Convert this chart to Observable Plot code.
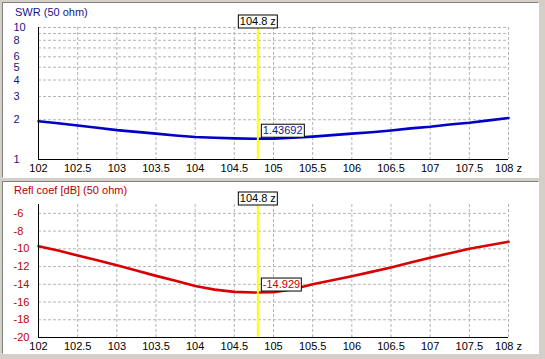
<!DOCTYPE html>
<html>
<head>
<meta charset="utf-8">
<script src="https://cdn.jsdelivr.net/npm/d3@7"></script>
<script src="https://cdn.jsdelivr.net/npm/@observablehq/plot@0.6"></script>
<style>
  html, body { margin: 0; padding: 0; background: #d4d0c8; width: 545px; height: 359px; overflow: hidden; }
  .panel { position: absolute; background: #fff; border-style: solid; border-width: 1px;
           border-color: #808080 #ffffff #ffffff #808080; overflow: hidden; }
  .title { position: absolute; font: 11px "Liberation Sans", Arial, sans-serif; white-space: nowrap; }
</style>
</head>
<body>
<div id="top" class="panel" style="left:2px; top:2px; width:535px; height:174px;">
  <div class="title" style="left:12px; top:3px; color:#14148c;">SWR (50 ohm)</div>
</div>
<div id="bottom" class="panel" style="left:2px; top:181px; width:535px; height:171px;">
  <div class="title" style="left:11px; top:2px; color:#b40000;">Refl coef [dB] (50 ohm)</div>
</div>
<script>
// ---- data ----
const freq   = [102, 102.25, 102.5, 102.75, 103, 103.25, 103.5, 103.75, 104, 104.25, 104.5, 104.75, 105,
                105.25, 105.5, 105.75, 106, 106.25, 106.5, 106.75, 107, 107.25, 107.5, 107.75, 108];
const swr    = [1.95, 1.88, 1.81, 1.74, 1.67, 1.62, 1.57, 1.52, 1.48, 1.46, 1.445, 1.437, 1.44,
                1.46, 1.49, 1.53, 1.57, 1.61, 1.66, 1.72, 1.77, 1.84, 1.90, 1.98, 2.06];
const reflDb = [-9.7, -10.2, -10.75, -11.3, -11.85, -12.45, -13.05, -13.6, -14.2, -14.6, -14.85, -14.93, -14.9,
                -14.55, -14.0, -13.55, -13.1, -12.6, -12.1, -11.55, -11.0, -10.5, -10.0, -9.6, -9.2];
const xTicks   = [102, 102.5, 103, 103.5, 104, 104.5, 105, 105.5, 106, 106.5, 107, 107.5, 108];
const xGrid    = [102.5, 103, 103.5, 104, 104.5, 105, 105.5, 106, 106.5, 107, 107.5, 108];
const swrTicks = [1, 2, 3, 4, 5, 6, 8, 10];
const swrGrid  = [2, 3, 4, 5, 6, 7, 8, 9, 10];
const dbTicks  = [-20, -18, -16, -14, -12, -10, -8, -6];
const dbGrid   = [-18, -16, -14, -12, -10, -8, -6];
const cursorFreq = 104.8;
const cursorLabel = "104.8 z";
const cursorSwr  = 1.43692;
const cursorSwrLabel = "1.43692";
const cursorDb   = -14.929;
const cursorDbLabel = "-14.929";

const swrData  = freq.map((f, i) => ({f, v: swr[i]}));
const reflData = freq.map((f, i) => ({f, v: reflDb[i]}));

const gridColor = "#b4b4b4";
const fontStyle = {fontSize: "11px", fontFamily: "'Liberation Sans', Arial, sans-serif", background: "transparent", overflow: "visible"};

function panelPlot({h, mt, mb, y, data, yTicks, yGrid, yMin, lineColor, textColor, cursorVal, cursorText}) {
  return Plot.plot({
    width: 535, height: h,
    marginLeft: 35, marginRight: 30, marginTop: mt, marginBottom: mb,
    style: fontStyle,
    x: {domain: [102, 108], axis: null, label: null},
    y: {...y, axis: null, label: null},
    marks: [
      Plot.ruleX(xGrid, {stroke: gridColor, strokeDasharray: "3,2"}),
      Plot.ruleY(yGrid, {stroke: gridColor, strokeDasharray: "3,2"}),
      Plot.line(data, {x: "f", y: "v", stroke: lineColor, strokeWidth: 2.6}),
      Plot.ruleX([cursorFreq], {stroke: "#ffff00", strokeWidth: 2, insetTop: -2}),
      Plot.ruleX([102], {stroke: "black"}),
      Plot.ruleY([yMin], {stroke: "black"}),
      Plot.axisX({ticks: xTicks, tickSize: 0, tickPadding: 5, fill: "black", label: null,
                  tickFormat: d => d === 108 ? "108 z" : String(d)}),
      Plot.text(yTicks, {y: d => d, text: d => String(d), frameAnchor: "left", textAnchor: "start",
                         dx: -25, fill: textColor}),
      Plot.text([cursorFreq], {x: d => d, text: () => cursorLabel, frameAnchor: "top", dy: -10,
                               fill: "black"}),
      Plot.text([{f: cursorFreq, v: cursorVal}], {x: "f", y: "v", text: () => cursorText,
                               textAnchor: "start", dx: 5, dy: -8, fill: textColor})
    ]
  });
}

const topPlot = panelPlot({
  h: 174, mt: 24, mb: 18,
  y: {type: "log", domain: [1, 10]},
  data: swrData, yTicks: swrTicks, yGrid: swrGrid, yMin: 1,
  lineColor: "#0000c8", textColor: "#14148c", cursorVal: cursorSwr, cursorText: cursorSwrLabel
});
const botPlot = panelPlot({
  h: 171, mt: 22, mb: 16,
  y: {domain: [-20, -5]},
  data: reflData, yTicks: dbTicks, yGrid: dbGrid, yMin: -20,
  lineColor: "#d80000", textColor: "#c00000", cursorVal: cursorDb, cursorText: cursorDbLabel
});

const boxed = new Set([cursorLabel, cursorSwrLabel, cursorDbLabel]);
for (const [id, svg] of [["top", topPlot], ["bottom", botPlot]]) {
  svg.style.position = "absolute";
  svg.style.left = "0px";
  svg.style.top = "0px";
  const panel = document.getElementById(id);
  panel.insertBefore(svg, panel.firstChild);
  // white boxes with black border behind the cursor labels
  svg.querySelectorAll("text").forEach(t => {
    if (!boxed.has(t.textContent)) return;
    const b = t.getBBox();
    const r = document.createElementNS("http://www.w3.org/2000/svg", "rect");
    r.setAttribute("x", Math.round(b.x) - 1.5);
    r.setAttribute("y", Math.round(b.y) - 0.5);
    r.setAttribute("width", Math.round(b.width) + 3);
    r.setAttribute("height", Math.round(b.height) + 1);
    r.setAttribute("fill", "white");
    r.setAttribute("stroke", "black");
    r.setAttribute("stroke-width", 1);
    const tr = t.getAttribute("transform");
    if (tr) r.setAttribute("transform", tr);
    t.parentNode.insertBefore(r, t);
  });
}
</script>
</body>
</html>
